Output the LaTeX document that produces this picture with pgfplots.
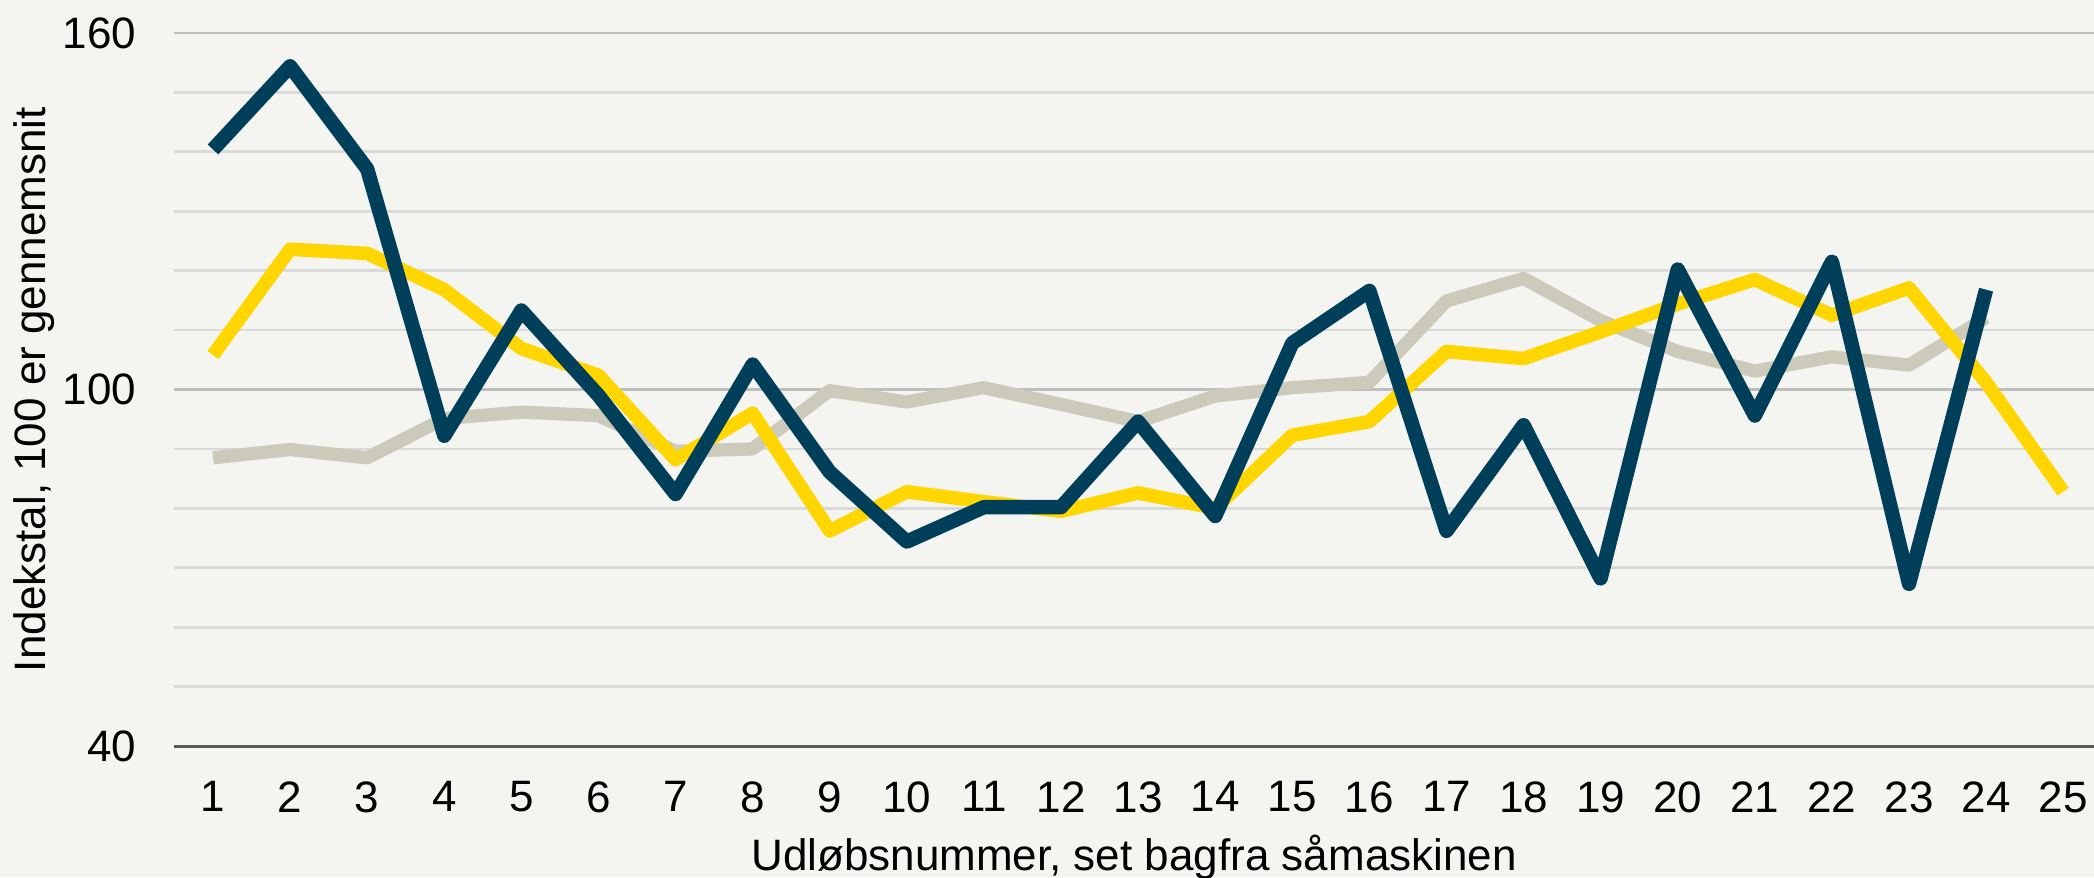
\documentclass[border=0pt]{standalone}
\usepackage{pgfplots}
\pgfplotsset{compat=1.18}
\usepackage{fontspec}
\setmainfont{Liberation Sans}
\usetikzlibrary{backgrounds}
\definecolor{bg}{HTML}{F4F4F0}
\definecolor{darkline}{HTML}{003F5A}
\definecolor{yellowline}{HTML}{FFD600}
\definecolor{grayline}{HTML}{CCCABA}
\definecolor{gridmin}{HTML}{D9D9D9}
\definecolor{gridmaj}{HTML}{BEBEBE}
\definecolor{axisgray}{HTML}{595959}

\pgfplotstableread{
x y
1 140.4
2 154.4
3 137.1
4 92.2
5 113.3
6 99
7 82.4
8 104.2
9 86.1
10 74.4
11 80.2
12 80.2
13 94.6
14 78.7
15 107.8
16 116.6
17 76.2
18 94.0
19 68.2
20 120.2
21 95.6
22 121.5
23 67.3
24 116.8
}\darkdata

\pgfplotstableread{
x y
1 105.8
2 123.6
3 122.9
4 116.8
5 106.9
6 102.4
7 88.2
8 96.0
9 76.2
10 82.8
11 81.1
12 79.5
13 82.6
14 80.0
15 92.3
16 94.6
17 106.4
18 105.2
19 109.7
20 114.4
21 118.5
22 112.5
23 117.1
24 101.2
25 82.8
}\yellowdata

\pgfplotstableread{
x y
1 88.5
2 89.9
3 88.5
4 95.1
5 96.2
6 95.6
7 89.6
8 90.0
9 99.8
10 97.9
11 100.3
12 97.5
13 94.6
14 98.9
15 100.3
16 101.2
17 114.9
18 118.7
19 111.6
20 106.4
21 103.1
22 105.5
23 104.1
24 112.1
}\graydata

\begin{document}
\fontsize{11pt}{13pt}\selectfont
\begin{tikzpicture}
\begin{axis}[
  name=ax,
  scale only axis, width=480pt, height=178.25pt,
  xmin=0.494, xmax=25.4, ymin=40, ymax=160,
  axis x line=bottom, axis y line=left,
  x axis line style={draw=axisgray, line width=0.75pt, -},
  y axis line style={draw=none},
  xtick={1,...,25}, ytick={40,100,160}, minor ytick={50,60,...,150},
  major tick length=0pt, minor tick length=0pt,
  ymajorgrids, yminorgrids,
  major grid style={gridmaj, line width=0.7pt},
  minor grid style={gridmin, line width=0.7pt},
  tick label style={font=\fontsize{11pt}{13pt}\selectfont, text=black},
  /pgf/number format/assume math mode=true,
  xticklabel shift=5pt, yticklabel shift=5.6pt,
  xlabel={Udløbsnummer, set bagfra såmaskinen},
  ylabel={Indekstal, 100 er gennemsnit},
  every axis x label/.style={at={(axis description cs:0.5,0)}, anchor=base, yshift=-31pt, font=\fontsize{11pt}{13pt}\selectfont},
  every axis y label/.style={at={([xshift=-35pt]axis description cs:0,0.5)}, rotate=90, anchor=center, font=\fontsize{11pt}{13pt}\selectfont},
]
\addplot[grayline, line width=3.3pt, line join=round] table[x=x,y=y] {\graydata};
\addplot[yellowline, line width=3.4pt, line join=round] table[x=x,y=y] {\yellowdata};
\addplot[darkline, line width=3.6pt, line join=round] table[x=x,y=y] {\darkdata};
\end{axis}
\pgfresetboundingbox
\path[use as bounding box] ([xshift=-43.5pt,yshift=-32.75pt]ax.south west) rectangle ([yshift=8.25pt]ax.north east);
\begin{scope}[on background layer]
\fill[bg] ([xshift=-43.5pt,yshift=-32.75pt]ax.south west) rectangle ([yshift=8.25pt]ax.north east);
\end{scope}
\end{tikzpicture}
\end{document}
